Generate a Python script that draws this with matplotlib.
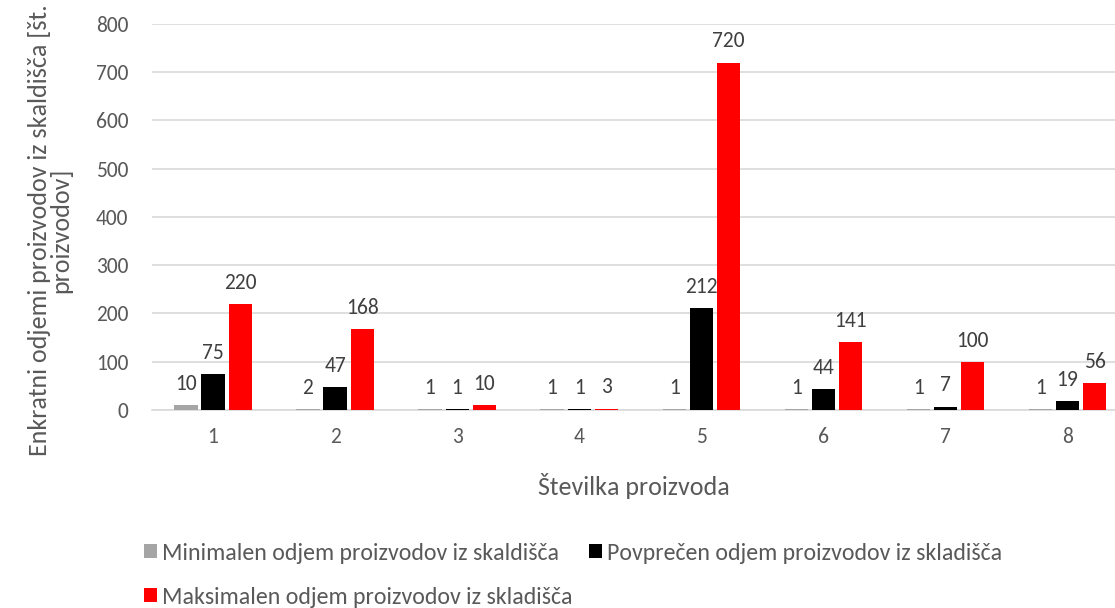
import numpy as np
import matplotlib.pyplot as plt

plt.rcParams['font.family'] = ['Carlito', 'DejaVu Sans']

# Podatki
izdelki = ['1', '2', '3', '4', '5', '6', '7', '8']
minimalen = [10, 2, 1, 1, 1, 1, 1, 1]
povprecen = [75, 47, 1, 1, 212, 44, 7, 19]
maksimalen = [220, 168, 10, 3, 720, 141, 100, 56]

serije = [
    ('Minimalen odjem proizvodov iz skaldišča', minimalen, '#A5A5A5'),
    ('Povprečen odjem proizvodov iz skladišča', povprecen, '#000000'),
    ('Maksimalen odjem proizvodov iz skladišča', maksimalen, '#FF0000'),
]

fig = plt.figure(figsize=(11.15, 6.08), dpi=100)
ax = fig.add_axes([0.1363, 0.3257, 0.8637, 0.6349])

x = np.arange(1, len(izdelki) + 1)
sirina = 0.19
korak = 0.222
stolpci = []
for i, (ime, vrednosti, barva) in enumerate(serije):
    b = ax.bar(x + (i - 1) * korak, vrednosti, sirina, color=barva, label=ime, zorder=3)
    ax.bar_label(b, padding=8, fontsize=15.5, color='#404040')
    stolpci.append(b)

ax.set_xlim(0.5, 8.39)
ax.set_ylim(0, 800)
ax.set_yticks(range(0, 801, 100))
ax.set_xticks(x)
ax.set_xticklabels(izdelki)
ax.tick_params(length=0, labelsize=15.5, colors='#595959', pad=12)
ax.tick_params(axis='y', pad=17)
ax.grid(axis='y', color='#D9D9D9', linewidth=1.2, zorder=0)
for s in ['top', 'right', 'left']:
    ax.spines[s].set_visible(False)
ax.spines['bottom'].set_color('#D9D9D9')
ax.spines['bottom'].set_linewidth(1.2)

ax.set_xlabel('Številka proizvoda', fontsize=18.7, color='#595959', labelpad=19)
ax.set_ylabel('Enkratni odjemi proizvodov iz skaldišča [št.\nproizvodov]',
              fontsize=18.7, color='#595959', linespacing=0.92)
ax.yaxis.set_label_coords(-0.083, 0.466)

# Legenda: vrstni red tako, da sta min in povprečje v prvi vrsti
h = [stolpci[0], stolpci[2], stolpci[1]]
l = [serije[0][0], serije[2][0], serije[1][0]]
fig.legend(h, l, ncol=2, loc='upper left', bbox_to_anchor=(0.11, 0.143),
           frameon=False, fontsize=17.2, labelcolor='#595959',
           handlelength=0.55, handleheight=0.55, handletextpad=0.2,
           columnspacing=0.7, labelspacing=0.97)

fig.savefig('out.png', dpi=100)
